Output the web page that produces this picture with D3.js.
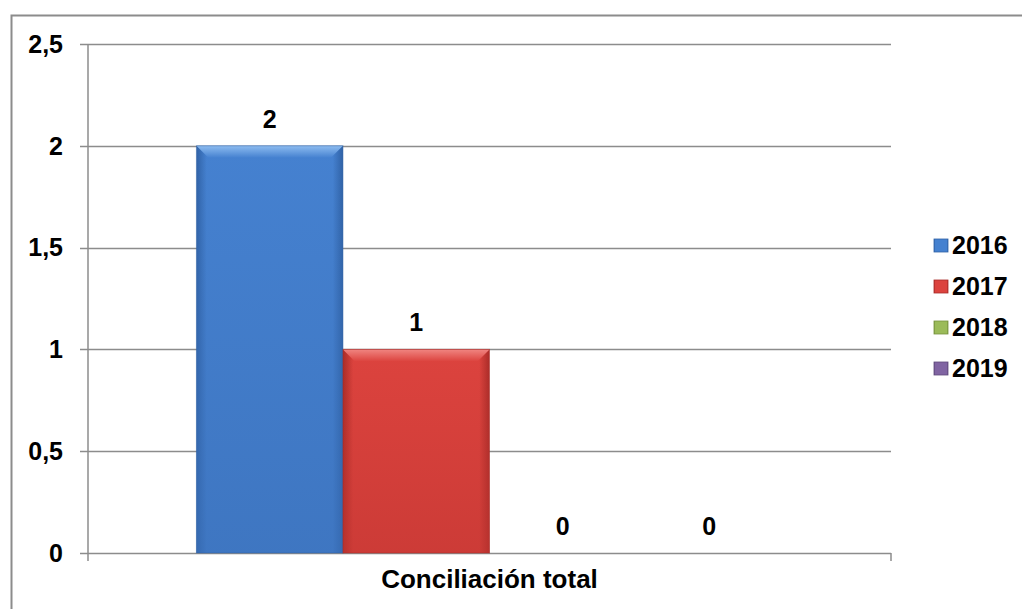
<!DOCTYPE html>
<html>
<head>
<meta charset="utf-8">
<script src="https://cdn.jsdelivr.net/npm/d3@7"></script>
<style>
  body { margin: 0; background: #fff; }
  text { font-family: "Liberation Sans", Arial, sans-serif; font-weight: bold; fill: #000; }
</style>
</head>
<body>
<script>
var width = 1022;
var height = 609;

// data
var categories = ["Conciliación total"];
var series = ["2016", "2017", "2018", "2019"];
var values = [2, 1, 0, 0];
var yTicks = [0, 0.5, 1, 1.5, 2, 2.5];
var yTickLabels = ["0", "0,5", "1", "1,5", "2", "2,5"];

var colors = {
  "2016": { mid: "#4581d0", edge: "#3062a6", top: "#8dbcf0", bottom: "#3a6fb8" },
  "2017": { mid: "#dc433e", edge: "#a92c28", top: "#f08581", bottom: "#c23632" },
  "2018": { mid: "#9bbb59", edge: "#76923c", top: "#c4dc8c", bottom: "#87a64a" },
  "2019": { mid: "#8064a2", edge: "#5f4a7c", top: "#ab94c8", bottom: "#6f568f" }
};

var fontSize = "25px";
var margin = { left: 88, right: 131, top: 44, bottom: 56 };

var svg = d3.select("body").append("svg")
  .attr("width", width)
  .attr("height", height);

var defs = svg.append("defs");
series.forEach(function(s, i){
  var c = colors[s];
  var g = defs.append("linearGradient").attr("id", "grad" + i)
    .attr("x1", "0").attr("x2", "1").attr("y1", "0").attr("y2", "0");
  g.append("stop").attr("offset", "0%").attr("stop-color", c.edge);
  g.append("stop").attr("offset", "7%").attr("stop-color", c.mid);
  g.append("stop").attr("offset", "93%").attr("stop-color", c.mid);
  g.append("stop").attr("offset", "100%").attr("stop-color", c.edge);
  var v = defs.append("linearGradient").attr("id", "vert" + i)
    .attr("x1", "0").attr("x2", "0").attr("y1", "0").attr("y2", "1");
  v.append("stop").attr("offset", "0%").attr("stop-color", c.bottom).attr("stop-opacity", 0);
  v.append("stop").attr("offset", "100%").attr("stop-color", c.bottom).attr("stop-opacity", 0.6);
  var t = defs.append("linearGradient").attr("id", "top" + i)
    .attr("x1", "0").attr("x2", "0").attr("y1", "0").attr("y2", "1");
  t.append("stop").attr("offset", "0%").attr("stop-color", c.top);
  t.append("stop").attr("offset", "100%").attr("stop-color", c.mid);
});

// outer frame
svg.append("path")
  .attr("d", "M11.5," + height + "V15.5H" + width)
  .attr("fill", "none")
  .attr("stroke", "#8c8c8c")
  .attr("stroke-width", 2);

var x0 = d3.scaleBand()
  .domain(categories)
  .range([margin.left, width - margin.right]);

var x1 = d3.scaleBand()
  .domain(series)
  .range([0, x0.bandwidth()])
  .paddingInner(0)
  .paddingOuter(0.74);

var y = d3.scaleLinear()
  .domain([0, 2.5])
  .range([height - margin.bottom, margin.top]);

// gridlines
svg.append("g").selectAll("line")
  .data(yTicks)
  .enter().append("line")
  .attr("x1", margin.left - 8)
  .attr("x2", width - margin.right)
  .attr("y1", function(d){ return Math.round(y(d)) + 0.5; })
  .attr("y2", function(d){ return Math.round(y(d)) + 0.5; })
  .attr("stroke", "#8c8c8c")
  .attr("stroke-width", 1.5);

// y axis line
svg.append("line")
  .attr("x1", margin.left).attr("x2", margin.left)
  .attr("y1", y(2.5)).attr("y2", y(0) + 8)
  .attr("stroke", "#8c8c8c").attr("stroke-width", 1.5);

// x axis end tick
svg.append("line")
  .attr("x1", width - margin.right).attr("x2", width - margin.right)
  .attr("y1", y(0)).attr("y2", y(0) + 8)
  .attr("stroke", "#8c8c8c").attr("stroke-width", 1.5);

// y tick labels
svg.append("g").selectAll("text")
  .data(yTicks)
  .enter().append("text")
  .attr("x", 63)
  .attr("y", function(d){ return y(d); })
  .attr("dy", "0.35em")
  .attr("text-anchor", "end")
  .style("font-size", fontSize)
  .text(function(d, i){ return yTickLabels[i]; });

// category label
svg.append("g").selectAll("text")
  .data(categories)
  .enter().append("text")
  .attr("x", function(d){ return x0(d) + x0.bandwidth() / 2; })
  .attr("y", 588)
  .attr("text-anchor", "middle")
  .style("font-size", "26px")
  .text(function(d){ return d; });

// bars
var bars = svg.append("g").selectAll("g")
  .data(series)
  .enter().append("g")
  .attr("transform", function(s){ return "translate(" + (x0(categories[0]) + x1(s)) + ",0)"; });

bars.each(function(s, i){
  var v = values[i];
  if (v <= 0) return;
  var g = d3.select(this);
  var w = x1.bandwidth();
  var top = y(v), bot = y(0);
  g.append("rect")
    .attr("x", 0).attr("y", top)
    .attr("width", w).attr("height", bot - top)
    .attr("fill", "url(#grad" + i + ")");
  g.append("rect")
    .attr("x", 0).attr("y", top)
    .attr("width", w).attr("height", bot - top)
    .attr("fill", "url(#vert" + i + ")");
  // bevel top
  g.append("path")
    .attr("d", "M0," + top + "H" + w + "L" + (w - 12) + "," + (top + 12) + "H12Z")
    .attr("fill", "url(#top" + i + ")");
  g.append("rect")
    .attr("x", 0).attr("y", top)
    .attr("width", w).attr("height", bot - top)
    .attr("fill", "none")
    .attr("stroke", colors[s].edge)
    .attr("stroke-opacity", 0.5)
    .attr("stroke-width", 1);
});

// value labels
bars.append("text")
  .attr("x", x1.bandwidth() / 2)
  .attr("y", function(s, i){ return y(values[i]) - 18; })
  .attr("text-anchor", "middle")
  .style("font-size", fontSize)
  .text(function(s, i){ return values[i]; });

// legend
var legend = svg.append("g").selectAll("g")
  .data(series)
  .enter().append("g")
  .attr("transform", function(s, i){ return "translate(934," + (245 + i * 41) + ")"; });

legend.append("rect")
  .attr("x", 0).attr("y", -6)
  .attr("width", 14).attr("height", 13)
  .attr("fill", function(s, i){ return "url(#grad" + i + ")"; })
  .attr("stroke", function(s){ return colors[s].edge; })
  .attr("stroke-width", 0.8);

legend.append("text")
  .attr("x", 18)
  .attr("y", 0)
  .attr("dy", "0.35em")
  .style("font-size", fontSize)
  .text(function(s){ return s; });
</script>
</body>
</html>
